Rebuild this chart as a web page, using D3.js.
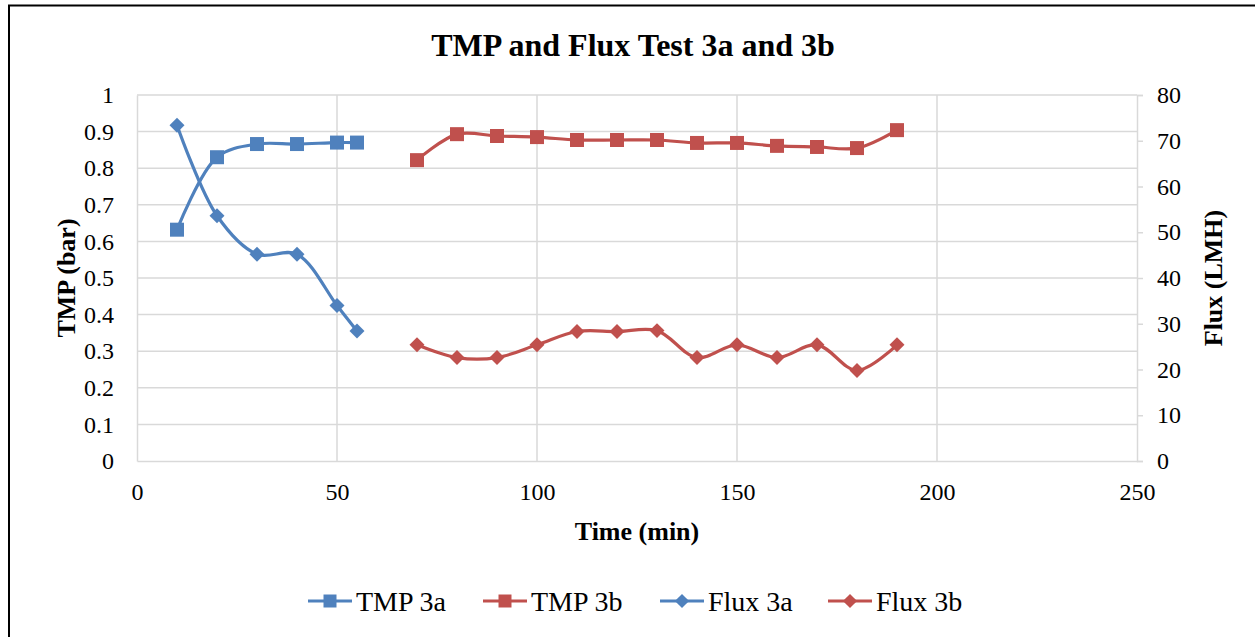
<!DOCTYPE html>
<html><head><meta charset="utf-8">
<script src="https://cdn.jsdelivr.net/npm/d3@7"></script>
<style>body{margin:0;background:#fff}svg{display:block}</style>
</head><body>
<svg id="c" width="1255" height="637"></svg>
<script>
const timeA = [10, 20, 30, 40, 50, 55];
const tmpA = [0.632, 0.830, 0.866, 0.866, 0.870, 0.870];
const fluxA = [73.4, 53.6, 45.2, 45.2, 34.0, 28.4];
const timeB = [70, 80, 90, 100, 110, 120, 130, 140, 150, 160, 170, 180, 190];
const tmpB = [0.822, 0.893, 0.888, 0.885, 0.877, 0.877, 0.877, 0.869, 0.869, 0.861, 0.858, 0.855, 0.904];
const fluxB = [25.4, 22.6, 22.6, 25.4, 28.3, 28.3, 28.5, 22.6, 25.4, 22.6, 25.4, 19.8, 25.4];
const xTicks = [0, 50, 100, 150, 200, 250];
const yLeftTicks = [0, 0.1, 0.2, 0.3, 0.4, 0.5, 0.6, 0.7, 0.8, 0.9, 1];
const yRightTicks = [0, 10, 20, 30, 40, 50, 60, 70, 80];
const seriesNames = ["TMP 3a", "TMP 3b", "Flux 3a", "Flux 3b"];

const BLUE = "#4f81bd", RED = "#c0504d", GRID = "#d9d9d9";
const FONT = "'Liberation Serif','Times New Roman',serif";
const svg = d3.select("#c");
const L = 137, R = 1137, T = 95, B = 461;
const x = d3.scaleLinear().domain([0, 250]).range([L, R]);
const yL = d3.scaleLinear().domain([0, 1]).range([B, T]);
const yR = d3.scaleLinear().domain([0, 80]).range([B, T]);

// border
svg.append("rect").attr("x", 9).attr("y", 5.5).attr("width", 1300).attr("height", 700)
  .attr("fill", "none").attr("stroke", "#000").attr("stroke-width", 2);

// gridlines
svg.append("g").selectAll("line").data(yLeftTicks.slice(1)).join("line")
  .attr("x1", L).attr("x2", R).attr("y1", d => yL(d)).attr("y2", d => yL(d))
  .attr("stroke", GRID).attr("stroke-width", 1.5);
svg.append("g").selectAll("line").data(xTicks.slice(1, -1)).join("line")
  .attr("x1", d => x(d)).attr("x2", d => x(d)).attr("y1", T).attr("y2", B)
  .attr("stroke", GRID).attr("stroke-width", 1.5);

// axes
const axX = svg.append("g").attr("transform", `translate(0,${B})`)
  .call(d3.axisBottom(x).tickValues(xTicks).tickSize(0).tickPadding(22));
const axL = svg.append("g").attr("transform", `translate(${L},0)`)
  .call(d3.axisLeft(yL).tickValues(yLeftTicks).tickSize(0).tickPadding(23).tickFormat(d => String(+d.toFixed(1))));
const axR = svg.append("g").attr("transform", `translate(${R},0)`)
  .call(d3.axisRight(yR).tickValues(yRightTicks).tickSize(6).tickPadding(14));
[axX, axL, axR].forEach(a => {
  a.attr("font-family", FONT).attr("font-size", 24);
  a.select(".domain").attr("stroke", GRID).attr("stroke-width", 1.5);
  a.selectAll(".tick line").attr("stroke", GRID).attr("stroke-width", 1.5);
  a.selectAll("text").attr("font-family", FONT).attr("font-size", 24).attr("fill", "#000");
});

// titles
svg.append("text").attr("x", 633).attr("y", 56).attr("text-anchor", "middle")
  .attr("font-family", FONT).attr("font-weight", "bold").attr("font-size", 32).text("TMP and Flux Test 3a and 3b");
svg.append("text").attr("x", 637).attr("y", 540).attr("text-anchor", "middle")
  .attr("font-family", FONT).attr("font-weight", "bold").attr("font-size", 26).text("Time (min)");
svg.append("text").attr("transform", `translate(75,278) rotate(-90)`).attr("text-anchor", "middle")
  .attr("font-family", FONT).attr("font-weight", "bold").attr("font-size", 26).text("TMP (bar)");
svg.append("text").attr("transform", `translate(1222,278) rotate(-90)`).attr("text-anchor", "middle")
  .attr("font-family", FONT).attr("font-weight", "bold").attr("font-size", 26).text("Flux (LMH)");

const curve = d3.curveCatmullRom.alpha(0.5);
const sq = d3.symbol().type(d3.symbolSquare).size(196);
const dm = d3.symbol().type(d3.symbolSquare).size(112);

function series(times, vals, yS, color, sym, rot) {
  const pts = times.map((t, i) => [t, vals[i]]);
  const line = d3.line().x(d => x(d[0])).y(d => yS(d[1])).curve(curve);
  svg.append("path").attr("d", line(pts)).attr("fill", "none").attr("stroke", color).attr("stroke-width", 3.2);
  svg.append("g").selectAll("path").data(pts).join("path")
    .attr("d", sym).attr("transform", d => `translate(${x(d[0])},${yS(d[1])}) rotate(${rot})`).attr("fill", color);
}
series(timeA, fluxA, yR, BLUE, dm, 45);
series(timeB, fluxB, yR, RED, dm, 45);
series(timeA, tmpA, yL, BLUE, sq, 0);
series(timeB, tmpB, yL, RED, sq, 0);

// legend
const legX = [308, 483, 660, 828];
const legColors = [BLUE, RED, BLUE, RED];
const ly = 601;
seriesNames.forEach((n, i) => {
  const g = svg.append("g").attr("transform", `translate(${legX[i]},${ly})`);
  g.append("line").attr("x1", 0).attr("x2", 44).attr("stroke", legColors[i]).attr("stroke-width", 3.2);
  g.append("path").attr("d", d3.symbol().type(d3.symbolSquare).size(i < 2 ? 169 : 100)())
    .attr("transform", `translate(22,0) rotate(${i < 2 ? 0 : 45})`).attr("fill", legColors[i]);
  g.append("text").attr("x", 48).attr("y", 10).attr("font-family", FONT).attr("font-size", 28).text(n);
});
</script>
</body></html>
